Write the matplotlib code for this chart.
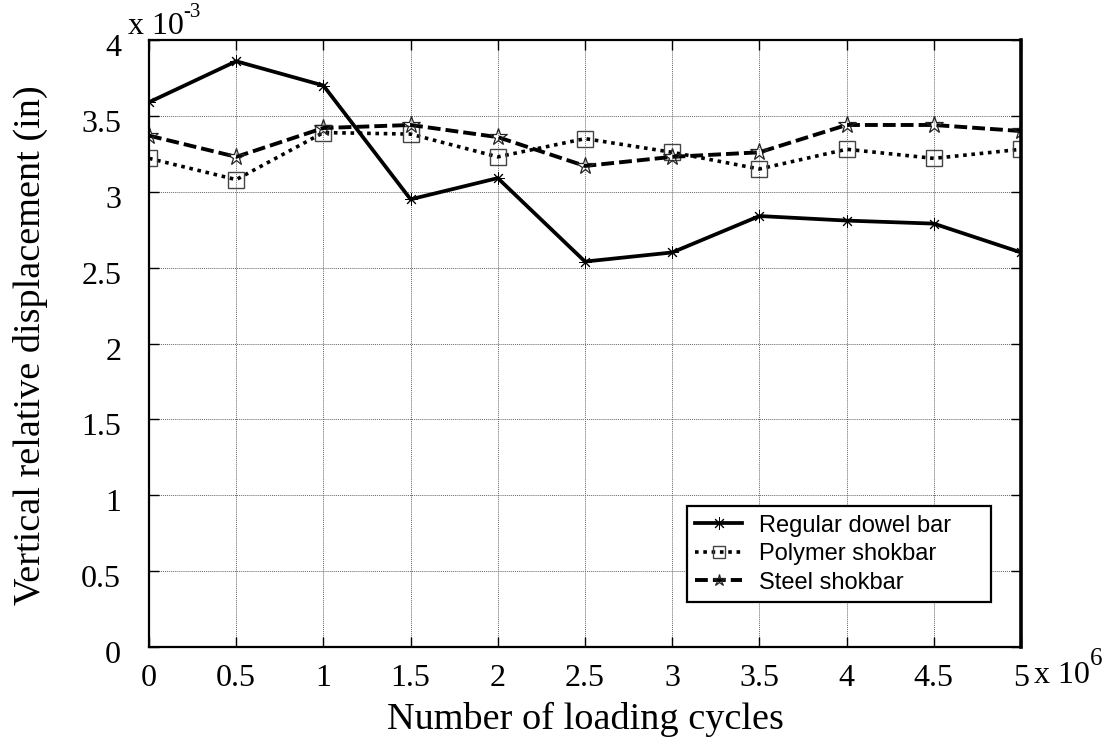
import matplotlib
matplotlib.use("Agg")
import matplotlib.pyplot as plt
from matplotlib.transforms import ScaledTranslation

# Loading cycles (x 10^6) and vertical relative displacement (x 10^-3 in)
cycles = [0, 0.5, 1, 1.5, 2, 2.5, 3, 3.5, 4, 4.5, 5]
regular_dowel = [3.59, 3.86, 3.70, 2.95, 3.09, 2.54, 2.60, 2.84, 2.81, 2.79, 2.60]
polymer_shokbar = [3.22, 3.08, 3.39, 3.38, 3.23, 3.35, 3.26, 3.15, 3.28, 3.22, 3.28]
steel_shokbar = [3.37, 3.23, 3.42, 3.44, 3.36, 3.17, 3.23, 3.26, 3.44, 3.44, 3.40]

series_names = ["Regular dowel bar", "Polymer shokbar", "Steel shokbar"]
x_ticks = [0, 0.5, 1, 1.5, 2, 2.5, 3, 3.5, 4, 4.5, 5]
x_tick_labels = ["0", "0.5", "1", "1.5", "2", "2.5", "3", "3.5", "4", "4.5", "5"]
y_ticks = [0, 0.5, 1, 1.5, 2, 2.5, 3, 3.5, 4]
y_tick_labels = ["0", "0.5", "1", "1.5", "2", "2.5", "3", "3.5", "4"]

serif = "Liberation Serif"
sans = "Liberation Sans"

fig = plt.figure(figsize=(11.15, 7.40), dpi=100)
ax = fig.add_axes([149 / 1115, 93 / 740, 872 / 1115, 607 / 740])

ax.plot(cycles, regular_dowel, color="black", lw=2.7, ls="-",
        marker=(8, 2, 0), ms=9, mew=0.7, label=series_names[0])
ax.plot(cycles, polymer_shokbar, color="black", lw=2.6, ls=(0, (1, 1.3)),
        marker="s", ms=11.5, mfc="none", mec="#444444", mew=1.0,
        label=series_names[1])
ax.plot(cycles, steel_shokbar, color="black", lw=2.8, ls=(0, (3.3, 1.3)),
        marker="*", ms=13, mfc="none", mec="#222222", mew=0.9,
        label=series_names[2])

ax.set_xlim(0, 5)
ax.set_ylim(0, 4)
ax.set_xticks(x_ticks)
ax.set_xticklabels(x_tick_labels)
ax.set_yticks(y_ticks)
ax.set_yticklabels(y_tick_labels)

ax.grid(True, color="#666666", ls=(0, (1, 1)), lw=0.7)
ax.set_axisbelow(True)
for side in ("left", "bottom", "top", "right"):
    ax.spines[side].set_linewidth(1.6)
ax.spines["right"].set_linewidth(2.6)

ax.tick_params(axis="both", direction="in", length=7, width=1.0,
               top=True, right=True, labelsize=23)
ax.tick_params(axis="x", pad=12)
ax.tick_params(axis="y", pad=20)
for lab in ax.get_xticklabels() + ax.get_yticklabels():
    lab.set_fontfamily(serif)
shift = ScaledTranslation(0, -5 / 100, fig.dpi_scale_trans)
for lab in ax.get_yticklabels():
    lab.set_transform(lab.get_transform() + shift)

# Scale multipliers
fig.text(128 / 1115, 1 - 34 / 740, "x 10", fontsize=23, family=serif,
         ha="left", va="baseline")
fig.text(183 / 1115, 1 - 17 / 740, "-3", fontsize=15, family=serif,
         ha="left", va="baseline")
fig.text(1034 / 1115, 1 - 683 / 740, "x 10", fontsize=23, family=serif,
         ha="left", va="baseline")
fig.text(1090 / 1115, 1 - 665 / 740, "6", fontsize=18, family=serif,
         ha="left", va="baseline")

fig.text(585 / 1115, 1 - 719 / 740, "Number of loading cycles",
         fontsize=27.5, family=serif, ha="center", va="center")
fig.text(30 / 1115, 1 - 345 / 740, "Vertical relative displacement (in)",
         fontsize=27.5, family=serif, ha="center", va="center", rotation=90)

# Legend stretched to a fixed box in the lower right
x0 = (687 - 149) / 872
y0 = (647 - 602) / 607
w = (991 - 687) / 872
h = (602 - 509) / 607
leg = ax.legend(loc="lower left", bbox_to_anchor=(x0, y0, w, h), mode="expand",
                prop={"family": sans, "size": 17}, frameon=True,
                fancybox=False, edgecolor="black", framealpha=1,
                handlelength=2.0, handletextpad=0.68, borderpad=0.35,
                labelspacing=0.28, borderaxespad=0)
leg.get_frame().set_linewidth(1.6)
for h in leg.legend_handles:
    h.set_markersize(9)

fig.savefig("out.png", dpi=100)
